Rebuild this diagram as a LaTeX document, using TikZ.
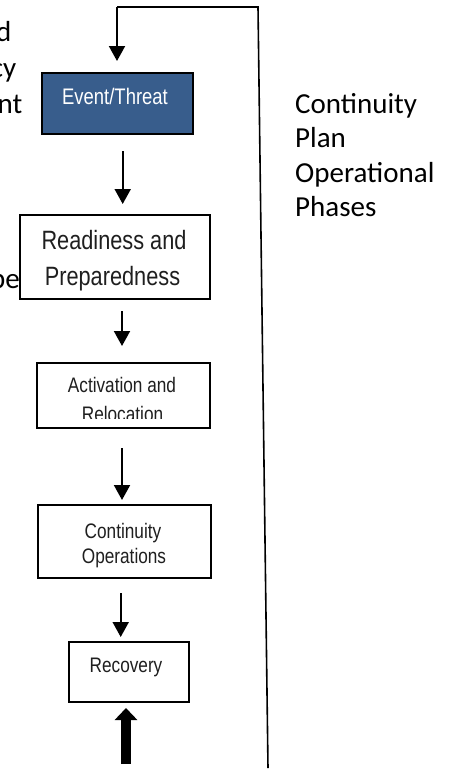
\documentclass[tikz,border=0pt]{standalone}
\usepackage{fontspec}
\setmainfont{Carlito}
\newfontfamily\narrowfont[FakeStretch=0.82]{Liberation Sans}
\usetikzlibrary{arrows.meta}
\definecolor{evblue}{RGB}{56,93,140}
\begin{document}
\begin{tikzpicture}[x=1pt,y=-1pt,
  box/.style={draw=black,line width=2pt,fill=white,inner sep=0pt},
  body/.style={font=\fontsize{29}{34.5}\selectfont,inner sep=0pt},
  btxt/.style={inner sep=0pt,anchor=base,text=black!88,font=\narrowfont\fontsize{21}{25}\selectfont},
  bigtxt/.style={inner sep=0pt,anchor=base,text=black!88,font=\narrowfont\fontsize{26.5}{30}\selectfont},
  arr/.style={line width=2pt,-{Triangle[width=16pt,length=15pt]}},
  loopline/.style={line width=1.6pt}]
\useasboundingbox (0,0) rectangle (454,769);
\clip (0,0) rectangle (454,769);

% text fragments cut by the left edge
\node[body,anchor=base east] (f1) at (11.5,41) {d};
\node[body,anchor=base east] (f2) at (16.5,77) {cy};
\node[body,anchor=base east] (f3) at (22.5,113) {nt};
\node[body,anchor=base east] (f4) at (20,288) {be};

% right caption
\node[body,anchor=base west] (p1) at (295,113) {Continuity};
\node[body,anchor=base west] (p2) at (295,147.5) {Plan};
\node[body,anchor=base west] (p3) at (295,182) {Operational};
\node[body,anchor=base west] (p4) at (295,216.5) {Phases};

% boxes
\node[box,fill=evblue,minimum width=151pt,minimum height=61pt] (ev) at (117,103) {};
\node[btxt,text=white,font=\narrowfont\fontsize{22.5}{26}\selectfont] (evt) at (115,104) {Event/Threat};

\node[box,minimum width=190pt,minimum height=84pt] (rd) at (114.5,256.5) {};
\node[bigtxt] (rd1) at (114,249.5) {Readiness and};
\node[bigtxt] (rd2) at (112.5,285.5) {Preparedness};

\node[box,minimum width=173pt,minimum height=65pt] (ac) at (123,395) {};
\node[btxt] (ac1) at (122,392) {Activation and};
\begin{scope}
  \clip (30,350) rectangle (220,418);
  \node[btxt] (ac2) at (122.5,421.5) {Relocation};
\end{scope}

\node[box,minimum width=173pt,minimum height=73pt] (co) at (124,541) {};
\node[btxt] (co1) at (123,538) {Continuity};
\node[btxt] (co2) at (124,563.5) {Operations};

\node[box,minimum width=120pt,minimum height=60pt] (rc) at (128.5,671.5) {};
\node[btxt] (rct) at (126,672) {Recovery};

% connector coordinates
\coordinate (lb) at (268,768);
\coordinate (lt) at (258,7);
\coordinate (tl) at (117,7);
\coordinate (a1e) at (117,61);
\coordinate (a2s) at (122.7,151);
\coordinate (a2e) at (122.7,204);
\coordinate (a3s) at (122,311);
\coordinate (a3e) at (122,346);
\coordinate (a4s) at (122,448);
\coordinate (a4e) at (122,500);
\coordinate (a5s) at (120.7,593);
\coordinate (a5e) at (120.7,637);
\coordinate (ts) at (126,764);
\coordinate (te) at (126,708);

% connectors
\draw[loopline] (lb) -- (lt) -- (tl);
\draw[arr] (tl) -- (a1e);
\draw[arr] (a2s) -- (a2e);
\draw[arr] (a3s) -- (a3e);
\draw[arr] (a4s) -- (a4e);
\draw[arr] (a5s) -- (a5e);
\draw[line width=10pt,-{Triangle[width=22pt,length=12pt]}] (ts) -- (te);
\end{tikzpicture}
\end{document}
